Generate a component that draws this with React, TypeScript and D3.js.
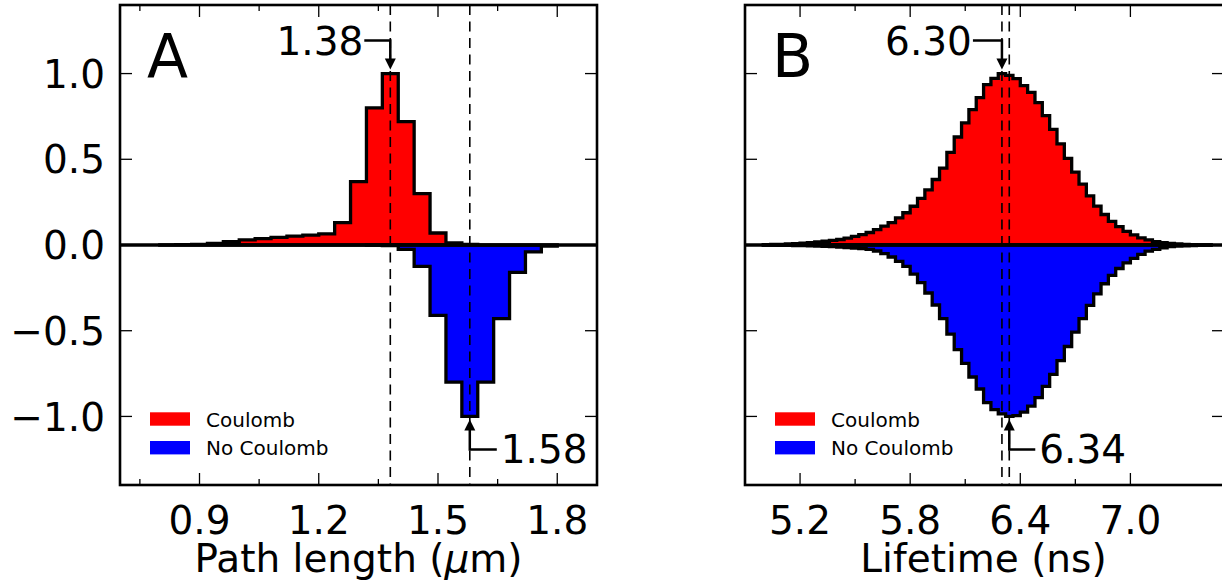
import React from 'react';
import * as d3 from 'd3';

// ---- data ----
// Panel A: path length histograms (bin width 0.04 um)
const pathBinWidth = 0.04;
const pathCoulombStart = 0.8;
const pathCoulomb = [
  0.001, 0.002, 0.004, 0.01, 0.02, 0.03, 0.037, 0.045, 0.052, 0.058,
  0.065, 0.13, 0.37, 0.8, 1.0, 0.72, 0.3, 0.07, 0.012, 0.004,
];
const pathNoCoulombStart = 1.32;
const pathNoCoulomb = [0.001, 0.004, 0.025, 0.125, 0.41, 0.8, 1.0, 0.8, 0.43, 0.16, 0.04, 0.006];

// Panel B: lifetime histograms (bin width 0.04 ns)
const lifeBinWidth = 0.04;
const lifeStart = 5.0;
const lifeCoulomb = [
  0.002, 0.003, 0.004, 0.006, 0.008, 0.011, 0.014, 0.018, 0.022, 0.027,
  0.032, 0.04, 0.05, 0.06, 0.073, 0.09, 0.11, 0.13, 0.158, 0.188,
  0.226, 0.272, 0.322, 0.382, 0.448, 0.54, 0.63, 0.712, 0.79, 0.86,
  0.935, 0.972, 1.0, 0.99, 0.97, 0.93, 0.89, 0.83, 0.755, 0.675,
  0.59, 0.505, 0.425, 0.355, 0.287, 0.227, 0.178, 0.138, 0.107, 0.08,
  0.059, 0.042, 0.03, 0.02, 0.013, 0.009, 0.006, 0.004, 0.002, 0.001, 0.001,
];
const lifeNoCoulomb = [
  0.001, 0.001, 0.002, 0.002, 0.003, 0.004, 0.005, 0.006, 0.008, 0.01,
  0.012, 0.015, 0.018, 0.021, 0.025, 0.035, 0.05, 0.07, 0.095, 0.125,
  0.17, 0.22, 0.28, 0.35, 0.43, 0.52, 0.61, 0.69, 0.77, 0.84,
  0.92, 0.96, 0.985, 1.0, 0.995, 0.975, 0.94, 0.89, 0.825, 0.755,
  0.675, 0.592, 0.508, 0.43, 0.352, 0.285, 0.226, 0.177, 0.137, 0.104,
  0.078, 0.055, 0.036, 0.025, 0.016, 0.01, 0.007, 0.005, 0.003, 0.002, 0.001,
];

const yTicks = [1.0, 0.5, 0.0, -0.5, -1.0];
const yTickLabels = ['1.0', '0.5', '0.0', '\u22120.5', '\u22121.0'];

const pathMajor = [0.9, 1.2, 1.5, 1.8];
const pathMajorLabels = ['0.9', '1.2', '1.5', '1.8'];
const pathMinor = [0.75, 1.05, 1.35, 1.65];
const lifeMajor = [5.2, 5.8, 6.4, 7.0];
const lifeMajorLabels = ['5.2', '5.8', '6.4', '7.0'];
const lifeMinor = [5.5, 6.1, 6.7];

const pathPeaks = [1.38, 1.58];
const lifePeaks = [6.3, 6.34];
const pathPeakLabels = ['1.38', '1.58'];
const lifePeakLabels = ['6.30', '6.34'];

const legendLabels = ['Coulomb', 'No Coulomb'];

const RED = '#ff0000';
const BLUE = '#0000ff';
const FONT = 'DejaVu Sans';

const TOP = 5;
const BOTTOM = 485;

type PanelProps = {
  left: number;
  right: number;
  xDomain: [number, number];
  major: number[];
  majorLabels: string[];
  minor: number[];
  showYLabels: boolean;
  red: { start: number; values: number[] };
  blue: { start: number; values: number[] };
  binWidth: number;
  peaks: number[];
  peakLabels: string[];
  topLeg: number;
  bottomLeg: number;
  letter: string;
  xlabel: React.ReactNode;
};

function stepPath(start: number, w: number, values: number[], sign: number, x: any, y: any) {
  const pts: [number, number][] = values.map((v, i) => [start + i * w, sign * v]);
  pts.push([start + values.length * w, sign * values[values.length - 1]]);
  const area = d3
    .area<[number, number]>()
    .curve(d3.curveStepAfter)
    .x((d) => x(d[0]))
    .y0(y(0))
    .y1((d) => y(d[1]));
  return area(pts) || '';
}

const Panel: React.FC<PanelProps> = (p) => {
  const x = d3.scaleLinear().domain(p.xDomain).range([p.left, p.right]);
  const y = d3.scaleLinear().domain([-1.4, 1.4]).range([BOTTOM, TOP]);
  const midX = (p.left + Math.min(p.right, 1222)) / 2;

  const tX = x(p.peaks[0]);
  const tTip = y(1) - 4;
  const tCorner = y(1) - 33;
  const bX = x(p.peaks[1]);
  const bTip = y(-1) + 3;
  const bCorner = y(-1) + 33;

  return (
    <g>
      <path d={stepPath(p.red.start, p.binWidth, p.red.values, 1, x, y)} fill={RED} stroke="#000" strokeWidth={3.3} strokeLinejoin="miter" />
      <path d={stepPath(p.blue.start, p.binWidth, p.blue.values, -1, x, y)} fill={BLUE} stroke="#000" strokeWidth={3.3} strokeLinejoin="miter" />
      <line x1={p.left} x2={p.right} y1={y(0)} y2={y(0)} stroke="#000" strokeWidth={3.5} />
      {p.peaks.map((v, i) => (
        <line key={i} x1={x(v)} x2={x(v)} y1={TOP} y2={BOTTOM} stroke="#000" strokeWidth={1.6} strokeDasharray="10,6.5" />
      ))}

      {/* spines */}
      <rect x={p.left} y={TOP} width={p.right - p.left} height={BOTTOM - TOP} fill="none" stroke="#000" strokeWidth={2.6} />

      {/* ticks */}
      {p.major.map((v, i) => (
        <g key={'M' + i} stroke="#000" strokeWidth={1.3}>
          <line x1={x(v)} x2={x(v)} y1={BOTTOM} y2={BOTTOM - 12} />
          <line x1={x(v)} x2={x(v)} y1={TOP} y2={TOP + 12} />
        </g>
      ))}
      {p.minor.map((v, i) => (
        <g key={'m' + i} stroke="#000" strokeWidth={1.3}>
          <line x1={x(v)} x2={x(v)} y1={BOTTOM} y2={BOTTOM - 6} />
          <line x1={x(v)} x2={x(v)} y1={TOP} y2={TOP + 6} />
        </g>
      ))}
      {yTicks.map((v, i) => (
        <g key={'y' + i} stroke="#000" strokeWidth={1.3}>
          <line x1={p.left} x2={p.left + 12} y1={y(v)} y2={y(v)} />
          <line x1={p.right} x2={p.right - 12} y1={y(v)} y2={y(v)} />
        </g>
      ))}

      {/* tick labels */}
      {p.major.map((v, i) => (
        <text key={'l' + i} x={x(v)} y={534} textAnchor="middle" fontSize={39}>
          {p.majorLabels[i]}
        </text>
      ))}
      {p.showYLabels &&
        yTicks.map((v, i) => (
          <text key={'yl' + i} x={p.left - 15} y={y(v) + 14.2} textAnchor="end" fontSize={39}>
            {yTickLabels[i]}
          </text>
        ))}
      <text x={midX} y={572} textAnchor="middle" fontSize={39}>
        {p.xlabel}
      </text>

      {/* panel letter */}
      <text x={p.left + 27} y={77} fontSize={60}>
        {p.letter}
      </text>

      {/* annotations */}
      <g stroke="#000" strokeWidth={2.5} fill="none">
        <path d={`M${tX - p.topLeg},${tCorner}H${tX}V${tTip - 10}`} />
        <path d={`M${bX + p.bottomLeg},${bCorner}H${bX}V${bTip + 10}`} />
      </g>
      <path d={`M${tX - 5.5},${tTip - 11}L${tX + 5.5},${tTip - 11}L${tX},${tTip}Z`} fill="#000" />
      <path d={`M${bX - 5.5},${bTip + 11}L${bX + 5.5},${bTip + 11}L${bX},${bTip}Z`} fill="#000" />
      <text x={tX - p.topLeg - 1} y={tCorner + 14.5} textAnchor="end" fontSize={39}>
        {p.peakLabels[0]}
      </text>
      <text x={bX + p.bottomLeg + 4} y={bCorner + 14} fontSize={39}>
        {p.peakLabels[1]}
      </text>

      {/* legend */}
      <rect x={p.left + 30} y={412.3} width={40} height={13.4} fill={RED} />
      <rect x={p.left + 30} y={441} width={40} height={13.4} fill={BLUE} />
      <text x={p.left + 86} y={426.5} fontSize={20}>
        {legendLabels[0]}
      </text>
      <text x={p.left + 86} y={455} fontSize={20}>
        {legendLabels[1]}
      </text>
    </g>
  );
};

export default function App() {
  return (
    <svg
      width={1222}
      height={583}
      style={{ position: 'absolute', left: 0, top: 0, background: '#fff' }}
      fontFamily={FONT}
    >
      <Panel
        left={120}
        right={597}
        xDomain={[0.7, 1.9]}
        major={pathMajor}
        majorLabels={pathMajorLabels}
        minor={pathMinor}
        showYLabels={true}
        red={{ start: pathCoulombStart, values: pathCoulomb }}
        blue={{ start: pathNoCoulombStart, values: pathNoCoulomb }}
        binWidth={pathBinWidth}
        peaks={pathPeaks}
        peakLabels={pathPeakLabels}
        topLeg={26}
        bottomLeg={27}
        letter="A"
        xlabel={
          <>
            Path length (<tspan fontStyle="italic">μ</tspan>m)
          </>
        }
      />
      <Panel
        left={745}
        right={1224}
        xDomain={[4.9, 7.51]}
        major={lifeMajor}
        majorLabels={lifeMajorLabels}
        minor={lifeMinor}
        showYLabels={false}
        red={{ start: lifeStart, values: lifeCoulomb }}
        blue={{ start: lifeStart, values: lifeNoCoulomb }}
        binWidth={lifeBinWidth}
        peaks={lifePeaks}
        peakLabels={lifePeakLabels}
        topLeg={29}
        bottomLeg={26}
        letter="B"
        xlabel="Lifetime (ns)"
      />
    </svg>
  );
}
